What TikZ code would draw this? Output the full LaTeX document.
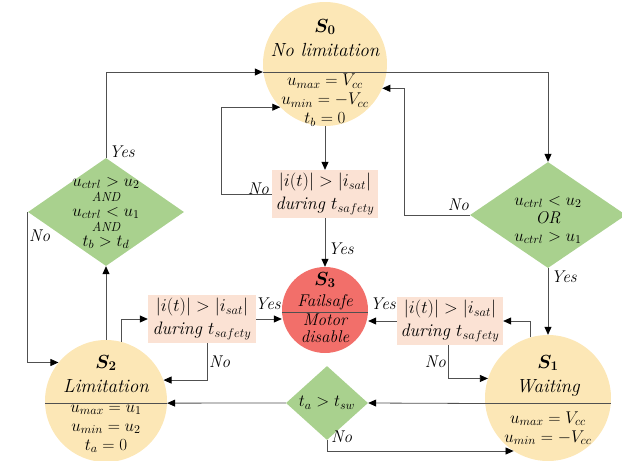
\documentclass[tikz,border=0pt]{standalone}
\usepackage{fix-cm}
\usepackage{amsmath}
\usepackage{bm}
\usetikzlibrary{shapes.geometric,arrows.meta,calc,positioning}
\definecolor{stateyellow}{HTML}{FCE7B6}
\definecolor{failred}{HTML}{F26F6A}
\definecolor{checkpeach}{HTML}{FBE2D4}
\definecolor{condgreen}{HTML}{A9D18E}
\definecolor{wirecol}{HTML}{505050}
\tikzset{
    state/.style = {circle, fill = stateyellow, inner sep = 0pt},
    check/.style = {rectangle, fill = checkpeach, minimum width = 106pt, minimum height = 48pt, inner sep = 0pt},
    cond/.style = {diamond, fill = condgreen, inner sep = 0pt},
    txt/.style = {inner sep = 0pt, align = center, font = {\fontsize{17}{19}\selectfont\itshape\lineskiplimit=-20pt}},
    statename/.style = {txt, font = {\fontsize{19}{19}\selectfont\itshape}},
    title/.style = {inner sep = 0pt, font = \fontsize{19}{19}\selectfont},
    wire/.style = {draw = wirecol, line width = 0.8pt},
    arr/.style = {wire, -{Triangle[length = 8pt, width = 7pt, black]}},
    lbl/.style = {inner sep = 1pt, font = \fontsize{17}{17}\selectfont\itshape},
}
\begin{document}
\begin{tikzpicture}[x = 1pt, y = -1pt]
    \useasboundingbox (0, 0) rectangle (622, 461);
    % States
    \node [state, minimum size = 124pt] (s0) at (325, 64) {};
    \node [state, minimum size = 126pt] (s1) at (548, 398) {};
    \node [state, minimum size = 122pt] (s2) at (106, 401) {};
    \node [state, fill = failred, minimum size = 86pt] (s3) at (325, 310) {};
    % Current checks
    \node [check] (chk0) at (325, 194) {};
    \node [check, minimum width = 108pt] (chkL) at (202, 319) {};
    \node [check] (chkR) at (450, 321) {};
    % Conditions
    \node [cond, minimum width = 156pt, minimum height = 108pt] (condL) at (106, 212) {};
    \node [cond, minimum width = 156pt, minimum height = 106pt] (condR) at (548, 215) {};
    \node [cond, minimum width = 82pt, minimum height = 74pt] (condB) at (327, 403) {};
    % Dividers
    \draw [wire]
        ($(s0.west) + (0, 8)$) -- ($(s0.east) + (0, 8)$)
        ($(s1.west) + (0, 5)$) -- ($(s1.east) + (0, 5)$)
        ($(s2.west) + (0, 2)$) -- ($(s2.east) + (0, 2)$)
        ($(s3.west) + (0, 2)$) -- ($(s3.east) + (0, 2)$);
    % Texts of the states
    \node [title] (s0t) at (325, 27) {$\bm{S_0}$};
    \node [statename] (s0n) at (325, 50) {No limitation};
    \node [txt] (s0v) at (325, 100) {$u_{max} = V_{cc}$\\ $u_{min} = -V_{cc}$\\ $t_b = 0$};
    \node [title] (s1t) at (548, 363) {$\bm{S_1}$};
    \node [statename] (s1n) at (548, 388) {Waiting};
    \node [txt] (s1v) at (548, 428) {$u_{max} = V_{cc}$\\ $u_{min} = -V_{cc}$};
    \node [title] (s2t) at (106, 363) {$\bm{S_2}$};
    \node [statename] (s2n) at (106, 386) {Limitation};
    \node [txt] (s2v) at (106, 429) {$u_{max} = u_1$\\ $u_{min} = u_2$\\ $t_a = 0$};
    \node [title] (s3t) at (325, 280) {$\bm{S_3}$};
    \node [txt] (s3n) at (325, 302) {Failsafe};
    \node [txt, font = {\fontsize{17}{17}\selectfont\itshape}] (s3v) at (325, 328) {Motor\\ disable};
    % Texts of the checks
    \foreach \c in {chk0, chkL, chkR}
        \node [txt, font = {\fontsize{18}{23}\selectfont\itshape}] (\c t) at (\c) {$|i(t)| > |i_{sat}|$\\ during $t_{safety}$};
    % Texts of the conditions
    \node [txt, font = {\fontsize{17}{15}\selectfont\itshape\lineskiplimit=-20pt}] (condLt) at (106, 213)
        {$u_{ctrl} > u_2$\\ {\fontsize{13}{13}\selectfont AND}\\ $u_{ctrl} < u_1$\\ {\fontsize{13}{13}\selectfont AND}\\ $t_b > t_d$};
    \node [txt, font = {\fontsize{17}{18}\selectfont\itshape\lineskiplimit=-20pt}] (condRt) at (548, 220)
        {$u_{ctrl} < u_2$\\ OR\\ $u_{ctrl} > u_1$};
    \node [txt] (condBt) at (327, 403) {$t_a > t_{sw}$};
    % Connectors
    \draw [arr] (condL.north) |- ($(s0.west) + (0, 8)$);
    \draw [arr] ($(s0.east) + (0, 8)$) -| (condR.north);
    \draw [arr] (condR.west) -- ++(-65, 0) |- (s0.-23);
    \draw [arr] (s0.south) -- (chk0.north);
    \draw [arr] (chk0.west) -- ++(-50, 0) |- (s0.224);
    \draw [arr] (chk0.south) -- (s3.north);
    \draw [arr] (chkL.east) -- (chkL.east -| s3.west);
    \draw [arr] (chkR.west) -- (chkR.west -| s3.east);
    \draw [arr] (s2.75) |- (chkL.west);
    \draw [arr] (s2.north) -- (condL.south);
    \draw [arr] (condL.west) |- (s2.141);
    \draw [arr] ([xshift = 5pt]chkL.south) |- (s2.20);
    \draw [arr] (s1.106) |- (chkR.east);
    \draw [arr] (condR.south) -- (s1.north);
    \draw [arr] ([xshift = -2pt]chkR.south) |- (s1.162);
    \draw [arr] (s1.185) -- (condB.east);
    \draw [arr] (condB.west) -- (s2.-2);
    \draw [arr] (condB.south) |- (s1.237);
    % Yes / No
    \node [lbl, anchor = west] (yesL) at (108, 152) {Yes};
    \node [lbl, anchor = west] (noL) at (28, 236) {No};
    \node [lbl, anchor = east] (noR) at (470, 205) {No};
    \node [lbl, anchor = west] (yesR) at (550, 277) {Yes};
    \node [lbl, anchor = east] (no0) at (270, 189) {No};
    \node [lbl, anchor = west] (yes0) at (327, 249) {Yes};
    \node [lbl, anchor = south] (yesCL) at (268, 311) {Yes};
    \node [lbl, anchor = south] (yesCR) at (383, 311) {Yes};
    \node [lbl, anchor = west] (noCL) at (208, 362) {No};
    \node [lbl, anchor = east] (noCR) at (447, 362) {No};
    \node [lbl, anchor = west] (noB) at (330, 437) {No};
\end{tikzpicture}
\end{document}
